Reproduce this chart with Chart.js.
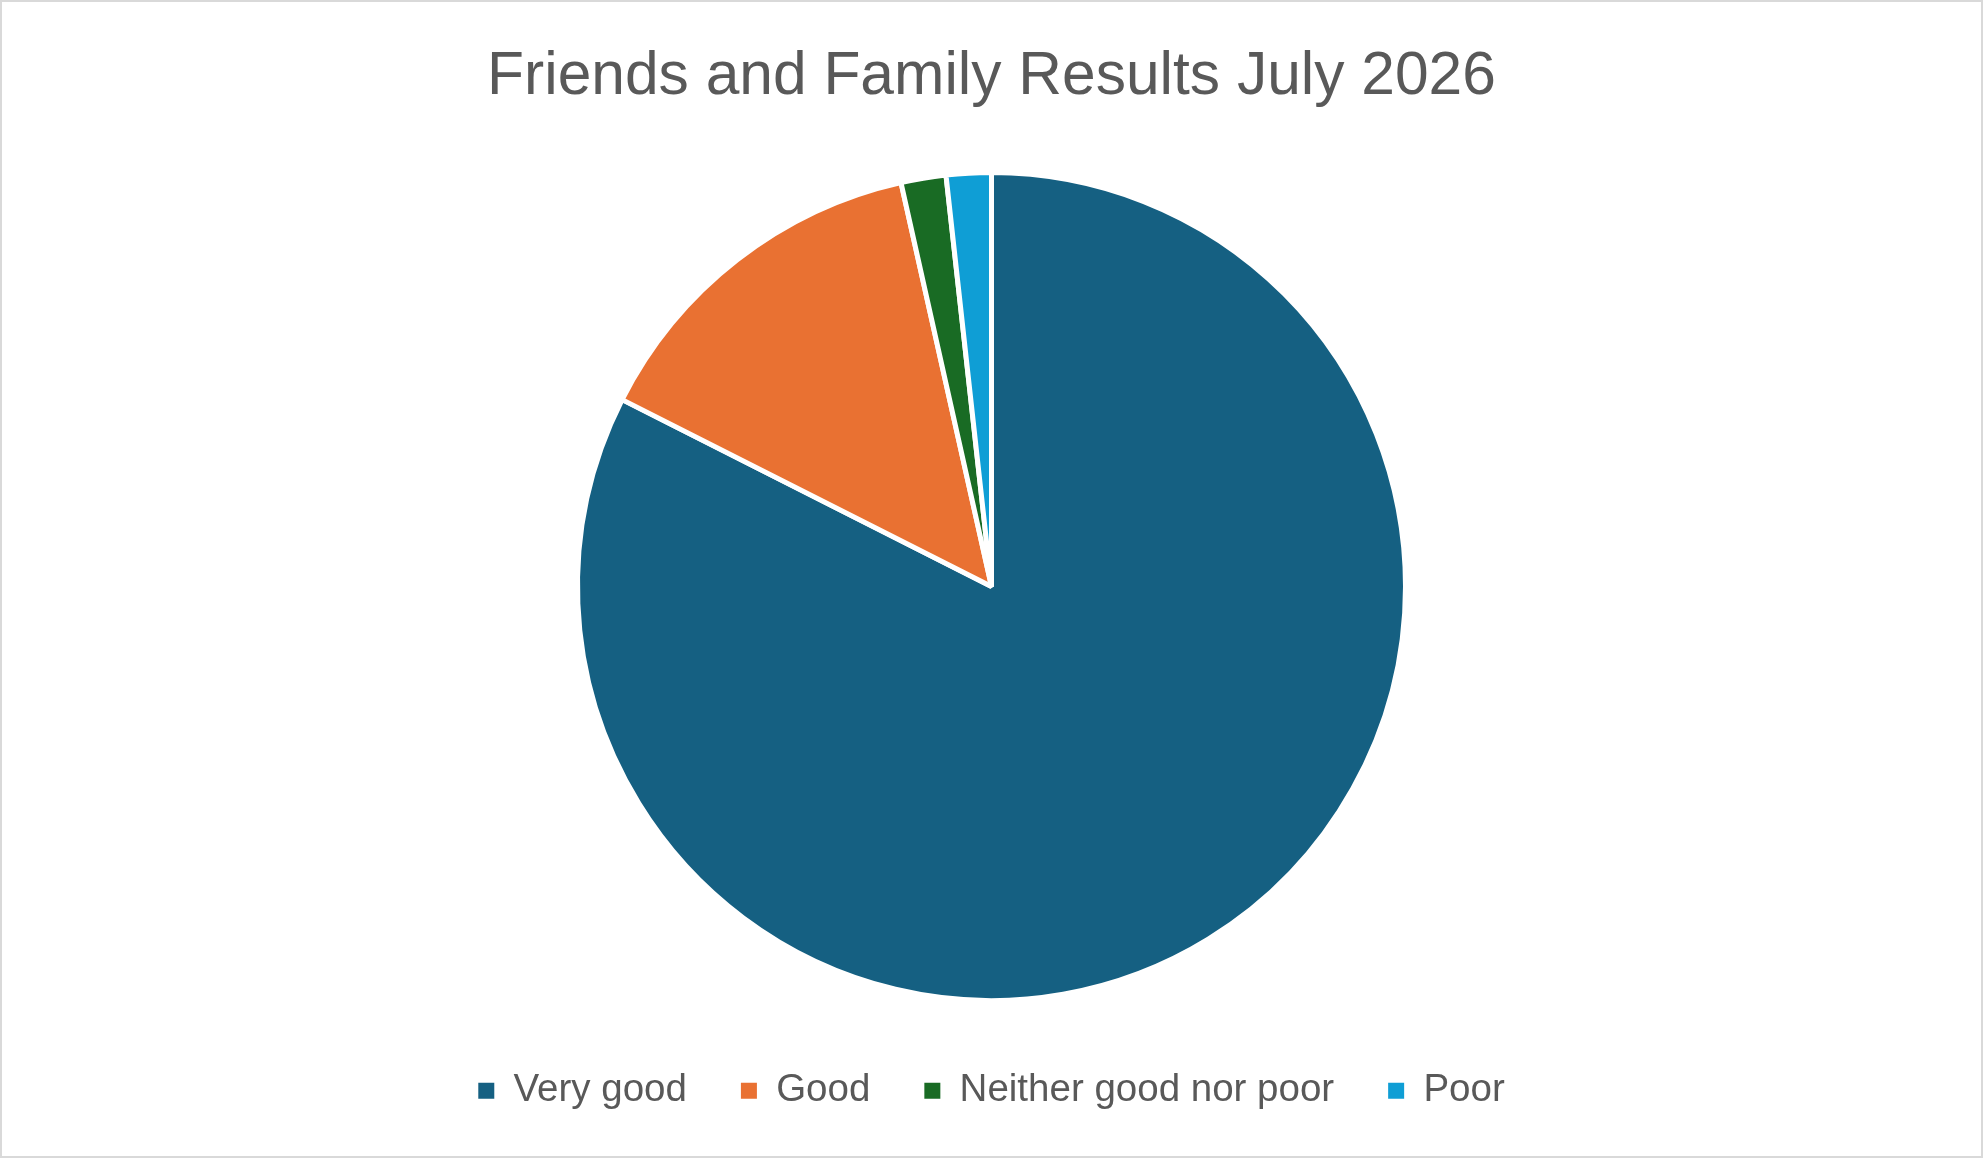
<!DOCTYPE html>
<html>
<head>
<meta charset="utf-8">
<script src="https://cdn.jsdelivr.net/npm/chart.js@4"></script>
<style>
  html, body { margin: 0; padding: 0; background: #fff; }
  #wrap { position: relative; width: 1983px; height: 1158px; }
  #frame {
    position: absolute; left: 0; top: 0; right: 0; bottom: 0;
    border: 2px solid #d9d9d9; pointer-events: none;
  }
</style>
</head>
<body>
<div id="wrap">
  <canvas id="chart" width="1983" height="1158"></canvas>
  <div id="frame"></div>
</div>
<script>
const categories = ["Very good", "Good", "Neither good nor poor", "Poor"];
const responses = [47, 8, 1, 1];
const colors = ["#156082", "#E97132", "#196B24", "#0F9ED5"];
const chartTitle = "Friends and Family Results July 2026";

const fontFamily = "'Liberation Sans', Arial, sans-serif";
const defaultLabels = Chart.overrides.pie.plugins.legend.labels.generateLabels;

const ctx = document.getElementById("chart").getContext("2d");
new Chart(ctx, {
  type: "pie",
  data: {
    labels: categories,
    datasets: [
      {
        data: responses,
        backgroundColor: colors,
        borderColor: "#ffffff",
        borderWidth: 5,
        radius: 414,
      },
    ],
  },
  options: {
    responsive: false,
    animation: false,
    layout: { padding: { top: 0, bottom: 38 } },
    plugins: {
      title: {
        display: true,
        text: chartTitle,
        color: "#595959",
        font: { family: fontFamily, size: 60.5, weight: "normal" },
        padding: { top: 41, bottom: 42 },
      },
      legend: {
        position: "bottom",
        labels: {
          color: "#595959",
          font: { family: fontFamily, size: 38.5 },
          boxWidth: 16,
          boxHeight: 16,
          padding: 54,
          // no white outline on the legend swatches
          generateLabels: (chart) =>
            defaultLabels(chart).map((item) => ({ ...item, lineWidth: 0 })),
        },
      },
      tooltip: { enabled: false },
    },
  },
});
</script>
</body>
</html>
